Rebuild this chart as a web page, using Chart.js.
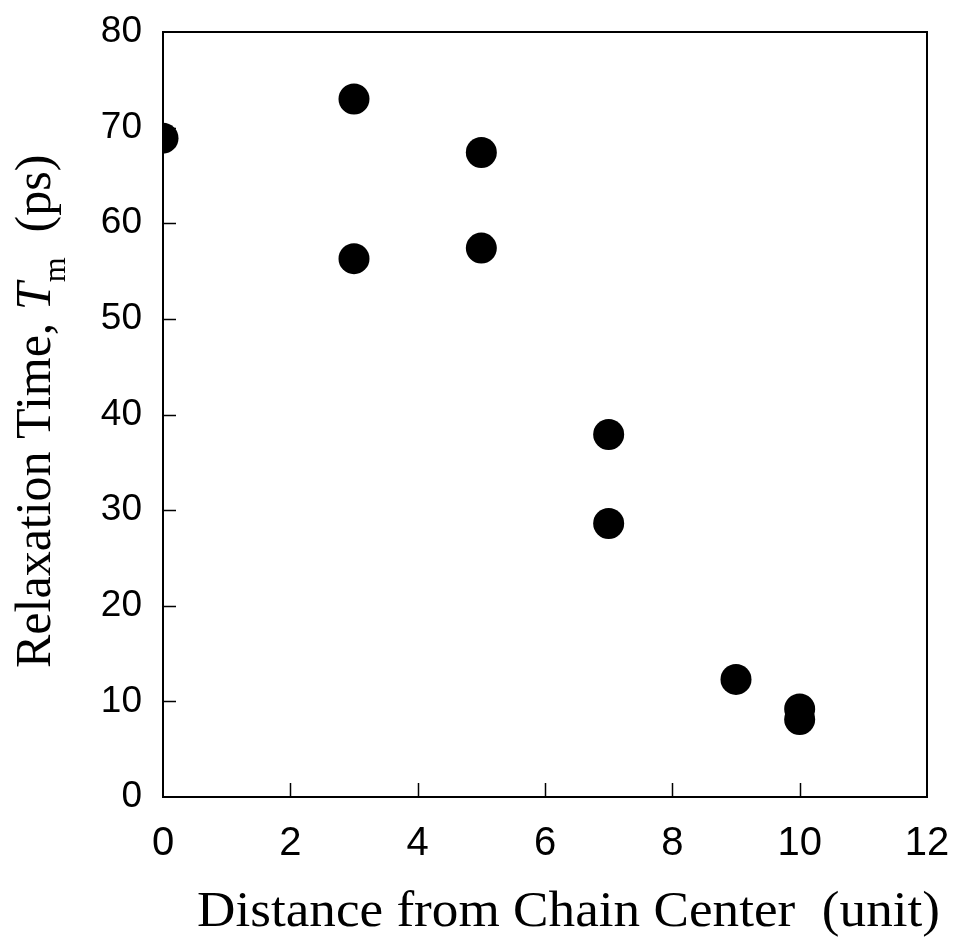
<!DOCTYPE html>
<html>
<head>
<meta charset="utf-8">
<script src="https://cdn.jsdelivr.net/npm/chart.js@4"></script>
<style>
  html, body { margin: 0; padding: 0; background: #fff; }
  canvas { display: block; }
</style>
</head>
<body>
<canvas id="relaxChart" width="954" height="939"></canvas>
<script>
// values
const distance   = [0, 3, 3, 5, 5, 7, 7, 9, 10, 10];
const relaxation = [68.9, 73.0, 56.3, 67.4, 57.4, 37.9, 28.6, 12.3, 9.2, 8.1];
const xTicks = [0, 2, 4, 6, 8, 10, 12];
const yTicks = [0, 10, 20, 30, 40, 50, 60, 70, 80];

const xTitle = "Distance from Chain Center  (unit)";
const yTitleParts = ["Relaxation Time, ", "T", "m", "  (ps)"];

const points = distance.map((d, i) => ({ x: d, y: relaxation[i] }));

// frame box, inward ticks and axis titles
const framePlugin = {
  id: "frame",
  afterDraw(chart) {
    const { ctx, chartArea: a, scales } = chart;
    ctx.save();
    ctx.strokeStyle = "#000";
    ctx.lineWidth = 2;
    ctx.strokeRect(a.left, a.top, a.right - a.left, a.bottom - a.top);

    ctx.lineWidth = 1.5;
    ctx.beginPath();
    xTicks.slice(1, -1).forEach(v => {
      const px = Math.round(scales.x.getPixelForValue(v)) + 0.5;
      ctx.moveTo(px, a.bottom);
      ctx.lineTo(px, a.bottom - 14);
    });
    yTicks.slice(1, -1).forEach(v => {
      const py = Math.round(scales.y.getPixelForValue(v)) + 0.5;
      ctx.moveTo(a.left, py);
      ctx.lineTo(a.left + 13, py);
    });
    ctx.stroke();

    // x title
    ctx.fillStyle = "#000";
    ctx.font = '50px "Liberation Serif"';
    ctx.textBaseline = "alphabetic";
    ctx.textAlign = "left";
    const w = ctx.measureText(xTitle).width;
    const targetW = 743;
    ctx.save();
    ctx.translate(197, 926);
    ctx.scale(targetW / w, 1);
    ctx.fillText(xTitle, 0, 0);
    ctx.restore();

    // y title, rotated, with italic T and subscript m
    ctx.save();
    ctx.translate(50, 668);
    ctx.rotate(-Math.PI / 2);
    let x = 0;
    ctx.font = '50px "Liberation Serif"';
    ctx.fillText(yTitleParts[0], x, 0);
    x += ctx.measureText(yTitleParts[0]).width;
    ctx.font = 'italic 50px "Liberation Serif"';
    ctx.fillText(yTitleParts[1], x, 0);
    x += ctx.measureText(yTitleParts[1]).width;
    ctx.font = '32px "Liberation Serif"';
    ctx.fillText(yTitleParts[2], x, 15);
    x += ctx.measureText(yTitleParts[2]).width;
    ctx.font = '50px "Liberation Serif"';
    ctx.fillText(yTitleParts[3], x, 0);
    ctx.restore();

    ctx.restore();
  }
};

new Chart(document.getElementById("relaxChart"), {
  type: "scatter",
  data: {
    datasets: [{
      data: points,
      backgroundColor: "#000",
      borderColor: "#000",
      borderWidth: 0,
      pointRadius: 15.5,
      pointHoverRadius: 15.5
    }]
  },
  options: {
    responsive: false,
    animation: false,
    layout: { padding: { top: 32, right: 27, left: 0, bottom: 0 } },
    plugins: {
      legend: { display: false },
      tooltip: { enabled: false }
    },
    scales: {
      x: {
        type: "linear",
        min: 0, max: 12,
        afterBuildTicks: s => { s.ticks = xTicks.map(v => ({ value: v })); },
        afterFit: s => { s.height = 142; s.paddingLeft = 0; s.paddingRight = 0; },
        grid: { display: false, drawTicks: false },
        border: { display: false },
        ticks: {
          color: "#000",
          padding: 23,
          maxRotation: 0,
          font: { family: "Liberation Sans", size: 40 }
        }
      },
      y: {
        type: "linear",
        min: 0, max: 80,
        afterBuildTicks: s => { s.ticks = yTicks.map(v => ({ value: v })); },
        afterFit: s => { s.width = 163; s.paddingTop = 0; s.paddingBottom = 0; },
        grid: { display: false, drawTicks: false },
        border: { display: false },
        ticks: {
          color: "#000",
          padding: 21,
          font: { family: "Liberation Sans", size: 37 }
        }
      }
    }
  },
  plugins: [framePlugin]
});
</script>
</body>
</html>
